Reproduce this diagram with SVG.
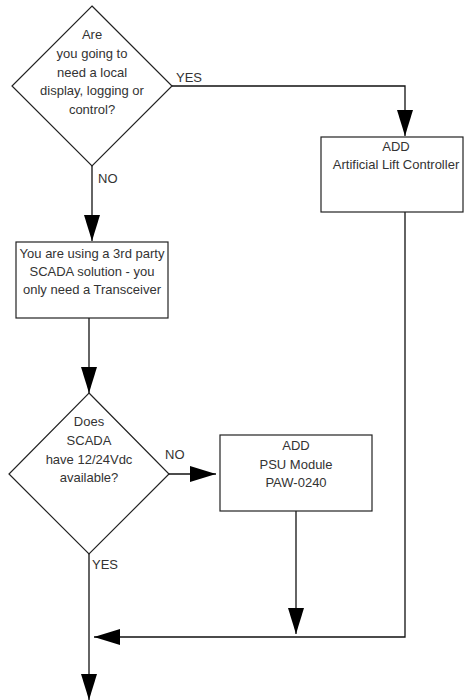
<svg xmlns="http://www.w3.org/2000/svg" width="464" height="700" viewBox="0 0 464 700">
  <style>
    .shape { fill: #ffffff; stroke: #222222; stroke-width: 1.2; }
    .wire { fill: none; stroke: #111111; stroke-width: 1.3; }
    .txt { font-family: "Liberation Sans", Arial, sans-serif; font-size: 13px; fill: #333333; text-anchor: middle; }
    .lbl { font-family: "Liberation Sans", Arial, sans-serif; font-size: 13px; fill: #333333; }
  </style>
  <defs>
    <marker id="arrow" markerUnits="userSpaceOnUse" markerWidth="27" markerHeight="16" refX="26" refY="8" orient="auto">
      <path d="M0,0 L26,8 L0,16 Z" fill="#000000"/>
    </marker>
  </defs>
  <rect width="464" height="700" fill="#ffffff"/>

  <!-- connectors -->
  <g id="connectors">
    <polyline class="wire" points="172,86 405,86 405,136" marker-end="url(#arrow)"/>
    <line class="wire" x1="92" y1="166" x2="92" y2="241" marker-end="url(#arrow)"/>
    <line class="wire" x1="89" y1="318" x2="89" y2="393" marker-end="url(#arrow)"/>
    <line class="wire" x1="169" y1="474" x2="216" y2="474" marker-end="url(#arrow)"/>
    <line class="wire" x1="296" y1="511" x2="296" y2="634" marker-end="url(#arrow)"/>
    <polyline class="wire" points="405,212 405,637 94,637" marker-end="url(#arrow)"/>
    <line class="wire" x1="89" y1="554" x2="89" y2="700" marker-end="url(#arrow)"/>
    <text class="lbl" x="176" y="82">YES</text>
    <text class="lbl" x="98" y="183">NO</text>
    <text class="lbl" x="165" y="459">NO</text>
    <text class="lbl" x="92" y="569">YES</text>
  </g>

  <!-- decision: local display / logging / control -->
  <g id="q-local">
    <polygon class="shape" points="92,6 172,86 92,166 12,86"/>
    <text class="txt" x="92" y="39">Are</text>
    <text class="txt" x="92" y="58">you going to</text>
    <text class="txt" x="92" y="76.5">need a local</text>
    <text class="txt" x="92" y="95">display, logging or</text>
    <text class="txt" x="92" y="113.5">control?</text>
  </g>

  <!-- add artificial lift controller -->
  <g id="add-alc">
    <rect class="shape" x="321" y="137" width="142" height="75"/>
    <text class="txt" x="396" y="151">ADD</text>
    <text class="txt" x="396" y="169">Artificial Lift Controller</text>
  </g>

  <!-- third party SCADA -->
  <g id="third-party">
    <rect class="shape" x="16" y="242" width="152" height="76"/>
    <text class="txt" x="92" y="257.5">You are using a 3rd party</text>
    <text class="txt" x="92" y="276">SCADA solution - you</text>
    <text class="txt" x="92" y="294">only need a Transceiver</text>
  </g>

  <!-- decision: supply available -->
  <g id="q-supply">
    <polygon class="shape" points="89,393 169,474 89,554 9,474"/>
    <text class="txt" x="89" y="426">Does</text>
    <text class="txt" x="89" y="445">SCADA</text>
    <text class="txt" x="89" y="464">have 12/24Vdc</text>
    <text class="txt" x="89" y="482">available?</text>
  </g>

  <!-- add PSU module -->
  <g id="add-psu">
    <rect class="shape" x="220" y="435" width="152" height="76"/>
    <text class="txt" x="296" y="449.5">ADD</text>
    <text class="txt" x="296" y="468.5">PSU Module</text>
    <text class="txt" x="296" y="487">PAW-0240</text>
  </g>
</svg>
